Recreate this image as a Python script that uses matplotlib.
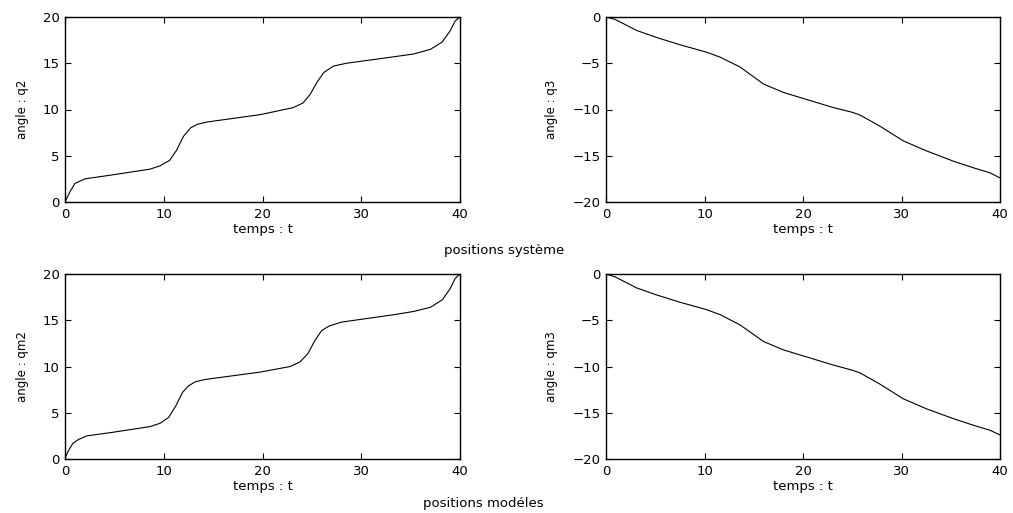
import numpy as np
import matplotlib
matplotlib.use("Agg")
import matplotlib.pyplot as plt

plt.rcParams['font.family'] = ['DejaVu Sans']

# system positions
t_q2 = [0, 0.5, 1.0, 2.0, 4.6, 8.6, 9.6, 10.6, 11.3, 12.0, 12.7, 13.4, 14.4, 19.8, 23.1, 24.1, 24.8, 25.5,
        26.2, 27.2, 28.5, 33.3, 35.3, 37.0, 38.2, 39.0, 39.5, 40]
q2 = [0, 1.1, 2.0, 2.5, 2.9, 3.55, 3.9, 4.5, 5.6, 7.1, 8.0, 8.4, 8.65, 9.45, 10.2, 10.7, 11.6, 12.9,
      14.0, 14.7, 15.0, 15.7, 16.0, 16.5, 17.3, 18.5, 19.55, 20.0]

t_q3 = [0, 0.9, 2.1, 3.1, 5.1, 7.5, 10.2, 11.6, 13.6, 16, 18, 19.7, 23.1, 25, 25.8, 27.8, 30.2, 32.6, 35.3,
        37.3, 39, 40]
q3 = [0, -0.25, -0.9, -1.45, -2.2, -3.0, -3.8, -4.35, -5.4, -7.25, -8.15, -8.7, -9.8, -10.3, -10.6, -11.8,
      -13.4, -14.5, -15.6, -16.3, -16.85, -17.4]

# model positions
t_qm2 = [0, 0.3, 0.8, 1.35, 2.2, 4.6, 8.6, 9.6, 10.5, 11.2, 11.9, 12.5, 13.2, 14.2, 19.8, 22.8, 23.8, 24.6,
         25.3, 26.0, 26.8, 28.0, 33.3, 35.3, 37.0, 38.2, 39.0, 39.5, 40]
qm2 = [0.1, 0.8, 1.7, 2.1, 2.5, 2.85, 3.5, 3.85, 4.5, 5.7, 7.2, 7.9, 8.35, 8.6, 9.4, 10.0, 10.5, 11.4,
       12.8, 13.9, 14.4, 14.8, 15.6, 15.95, 16.4, 17.2, 18.4, 19.5, 20.0]

t_qm3 = [0, 0.9, 2.1, 3.1, 5.1, 7.5, 10.2, 11.6, 13.6, 16, 18, 19.7, 23.1, 25, 25.8, 27.8, 30.2, 32.6, 35.3,
         37.3, 39, 40]
qm3 = [0, -0.3, -0.95, -1.5, -2.25, -3.05, -3.85, -4.4, -5.5, -7.3, -8.2, -8.75, -9.85, -10.4, -10.7, -11.9,
       -13.5, -14.6, -15.65, -16.35, -16.9, -17.4]

fig = plt.figure(figsize=(10.13, 5.13), dpi=100)

W, H = 1013, 513
boxes = [(65, 17, 460, 202), (606, 17, 1000, 202), (65, 274, 460, 459), (606, 274, 1000, 459)]
series = [(t_q2, q2, 'angle : q2', (0, 20)), (t_q3, q3, 'angle : q3', (-20, 0)),
          (t_qm2, qm2, 'angle : qm2', (0, 20)), (t_qm3, qm3, 'angle : qm3', (-20, 0))]

for (x0, y0, x1, y1), (t, y, lab, lim) in zip(boxes, series):
    ax = fig.add_axes([x0 / W, 1 - y1 / H, (x1 - x0) / W, (y1 - y0) / H])
    ax.plot(t, y, color='black', linewidth=0.8)
    ax.set_xlim(0, 40)
    ax.set_ylim(*lim)
    ax.set_xticks([0, 10, 20, 30, 40])
    ax.set_yticks(np.arange(lim[0], lim[1] + 1, 5))
    ax.tick_params(direction='in', top=True, right=True, length=4, width=0.8, labelsize=9.5)
    ax.tick_params(axis='x', pad=4.5)
    ax.tick_params(axis='y', pad=4)
    for s in ax.spines.values():
        s.set_linewidth(1.0)
    ax.set_xlabel('temps : t', fontsize=9.5, labelpad=1.5)
    ax.set_ylabel(lab, fontsize=8.5, labelpad=10)

fig.text(504 / W, 1 - 251 / H, 'positions système', ha='center', va='center', fontsize=9.5)
fig.text(483 / W, 1 - 503 / H, 'positions modéles', ha='center', va='center', fontsize=9.5)

fig.savefig('out.png', dpi=100)
